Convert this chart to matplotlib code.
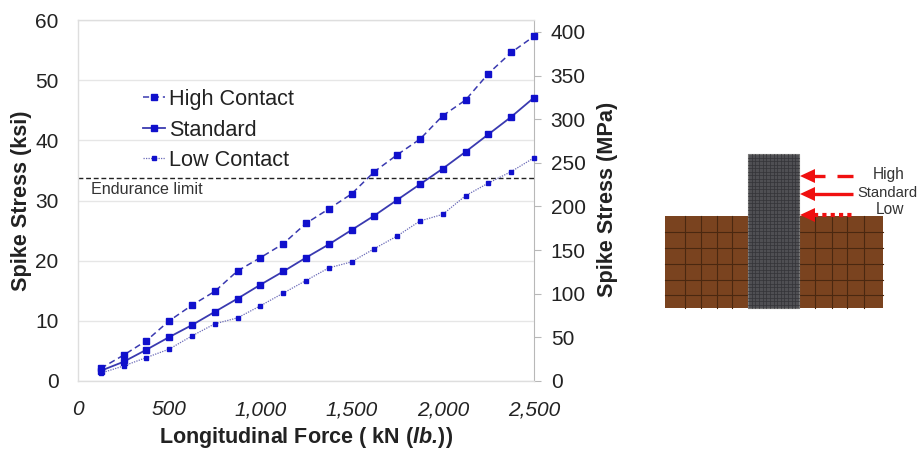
import matplotlib
matplotlib.use("Agg")
import matplotlib.pyplot as plt
from matplotlib.patches import Rectangle, Polygon

plt.rcParams['font.family'] = ['Liberation Sans', 'DejaVu Sans']
plt.rcParams['mathtext.fontset'] = 'custom'
plt.rcParams['mathtext.bfit'] = 'Liberation Sans:italic:bold'
plt.rcParams['mathtext.rm'] = 'Liberation Sans'

force = [125, 250, 375, 500, 625, 750, 875, 1000, 1125, 1250,
         1375, 1500, 1625, 1750, 1875, 2000, 2125, 2250, 2375, 2500]
high = [2.1, 4.3, 6.7, 10.0, 12.6, 14.9, 18.3, 20.5, 22.8, 26.2,
        28.6, 31.1, 34.8, 37.6, 40.2, 44.1, 46.7, 51.1, 54.6, 57.3]
standard = [1.7, 3.2, 5.2, 7.3, 9.3, 11.5, 13.7, 16.0, 18.2, 20.5,
            22.7, 25.1, 27.5, 30.1, 32.7, 35.3, 38.1, 41.0, 43.9, 47.1]
low = [1.3, 2.5, 3.9, 5.3, 7.5, 9.5, 10.5, 12.5, 14.6, 16.7,
       18.8, 19.8, 22.0, 24.1, 26.6, 27.7, 30.8, 32.9, 34.8, 37.1]
endurance_limit = 33.8
x_ticks = [0, 500, 1000, 1500, 2000, 2500]
x_labels = ['0', '500', '1,000', '1,500', '2,000', '2,500']
ksi_ticks = [0, 10, 20, 30, 40, 50, 60]
mpa_ticks = [0, 50, 100, 150, 200, 250, 300, 350, 400]

W, H = 918, 449
fig = plt.figure(figsize=(W / 100, H / 100), dpi=100, facecolor='white')

def box(l, t, r, b):
    return [l / W, 1 - b / H, (r - l) / W, (b - t) / H]

ax = fig.add_axes(box(78, 20, 534, 381))
ax.set_xlim(0, 2500)
ax.set_ylim(0, 60)
ax.yaxis.grid(True, color='#e6e6e6', lw=1)
ax.set_axisbelow(True)
for s in ['left', 'bottom', 'top']:
    ax.spines[s].set_color('#dedede')
    ax.spines[s].set_linewidth(1.0)
ax.spines['right'].set_visible(False)

blue = '#1010cc'
line_blue = '#3a3ab0'
mark = dict(marker='s', mfc=blue, mec=blue, clip_on=False, zorder=5)
ax.plot(force, high, ls=(0, (4, 2.5)), color=line_blue, lw=1.1, ms=3.9, label='High Contact', **mark)
ax.plot(force, standard, ls='-', color=line_blue, lw=1.3, ms=3.9, label='Standard', **mark)
ax.plot(force, low, ls=(0, (1, 1)), color='#6a6ab8', lw=0.9, ms=3.5, label='Low Contact', **mark)
ax.axhline(endurance_limit, color='#222222', lw=1.0, ls=(0, (3.5, 2)))
ax.text(13 / 456, (381 - 190) / 361, 'Endurance limit', transform=ax.transAxes, fontsize=11.6,
        color='#333333', va='center', ha='left')

ax.set_xticks(x_ticks, x_labels, fontsize=15, style='italic', color='#222222')
ax.set_yticks(ksi_ticks, [str(v) for v in ksi_ticks], fontsize=15, color='#222222')
ax.tick_params(axis='x', length=0, pad=14)
ax.tick_params(axis='y', length=0, pad=14)
ax.set_xlabel(r'Longitudinal Force ( kN ($\mathbfit{lb.}\!$))', fontsize=15.5, fontweight='bold',
              color='#222222')
ax.xaxis.set_label_coords(0.5, -(425 - 381) / 361)
ax.set_ylabel('Spike Stress (ksi)', fontsize=15.6, fontweight='bold', color='#222222', va='center')
ax.yaxis.set_label_coords((22 - 78) / 456, (381 - 201) / 361)

leg = ax.legend(loc='upper left', bbox_to_anchor=(65 / 456, (381 - 89) / 361), frameon=False, fontsize=15.6,
                labelspacing=0.44, handlelength=1.0, handletextpad=0.22, borderpad=0, borderaxespad=0,
                labelcolor='#222222')

ax2 = ax.twinx()
ax2.set_ylim(0, 60 * 6.895)
ax2.set_yticks(mpa_ticks, [str(v) for v in mpa_ticks], fontsize=15, color='#222222')
ax2.tick_params(axis='y', length=5, color='#b8b8b8', pad=7)
for s in ['left', 'bottom', 'top']:
    ax2.spines[s].set_visible(False)
ax2.spines['right'].set_color('#b8b8b8')
ax2.set_ylabel('Spike Stress (MPa)', fontsize=15.6, fontweight='bold', color='#222222', va='center')
ax2.yaxis.set_label_coords((607 - 78) / 456, (381 - 199) / 361)
ax.set_zorder(ax2.get_zorder() + 1)
ax.patch.set_visible(False)

# Finite element mesh diagram, drawn in pixel space
d = fig.add_axes([0, 0, 1, 1], facecolor='none')
d.set_xlim(0, W)
d.set_ylim(H, 0)
d.axis('off')

brown = '#7a431f'
edge = '#4a2810'
d.add_patch(Rectangle((665, 216), 218, 92, fc=brown, ec='none', zorder=1))
for xv in [685, 701, 717, 732, 815, 832, 847, 864]:
    d.plot([xv, xv], [216, 308], color=edge, lw=0.8, zorder=2)
for yv in [232, 248, 264, 280, 295]:
    d.plot([665, 883], [yv, yv], color=edge, lw=0.8, zorder=2)

d.add_patch(Rectangle((748, 154), 51, 154, fc='#4f4f53', ec='#777777', lw=0.8, zorder=3))
for i in range(1, 14):
    xv = 748 + i * 51 / 14
    d.plot([xv, xv], [154, 308], color='#333337', lw=0.5, zorder=4)
for i in range(1, 44):
    yv = 154 + i * 154 / 44
    d.plot([748, 799], [yv, yv], color='#333337', lw=0.5, zorder=4)

red = '#f01010'
def arrow(y):
    d.add_patch(Polygon([(800, y), (815, y - 7), (815, y + 7)], fc=red, ec='none', zorder=6))
arrow(176)
arrow(194)
arrow(215)
d.plot([814, 825], [176, 176], color=red, lw=2.4, solid_capstyle='butt', zorder=6)
d.plot([837, 853], [176, 176], color=red, lw=2.4, solid_capstyle='butt', zorder=6)
d.plot([814, 853], [194, 194], color=red, lw=2.4, solid_capstyle='butt', zorder=6)
d.plot([814, 853], [214.5, 214.5], color=red, lw=3, ls=(0, (1, 1)), zorder=6)

for label, xp, yp, fs in [('High', 889, 174, 11.2), ('Standard', 887.5, 193, 10.6), ('Low', 890, 209, 11.2)]:
    d.text(xp, yp, label, fontsize=fs, color='#333333', ha='center', va='center', zorder=7)

fig.savefig('out.png', dpi=100, facecolor='white')
